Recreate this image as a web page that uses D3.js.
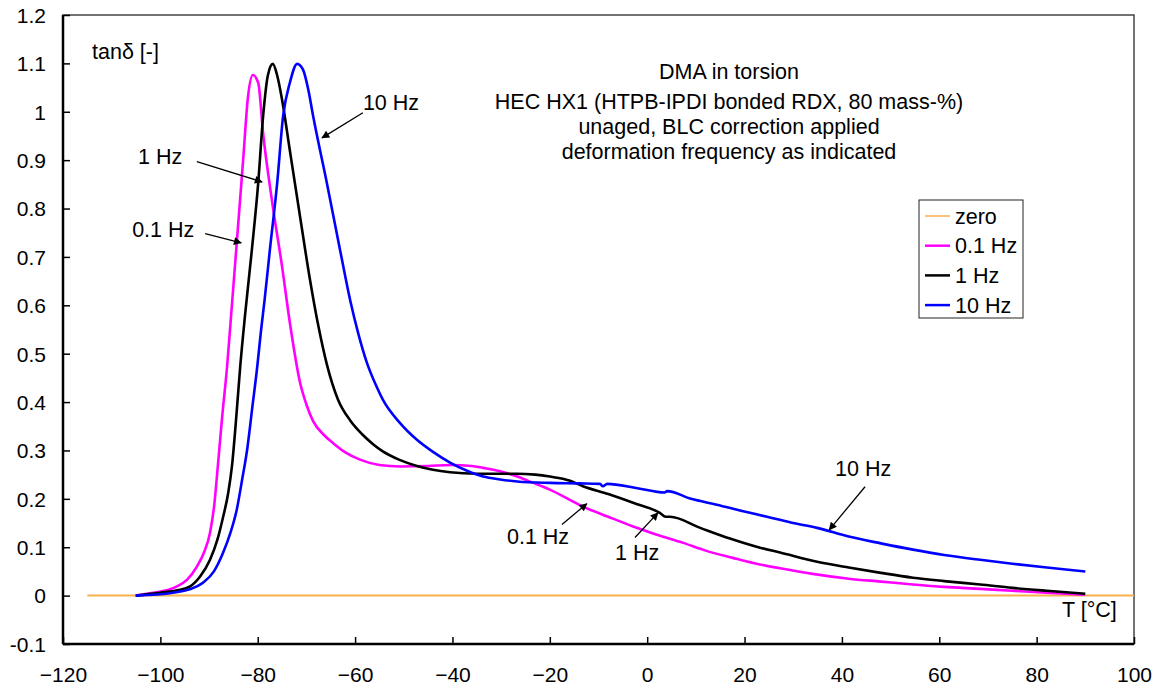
<!DOCTYPE html>
<html>
<head>
<meta charset="utf-8">
<script src="https://cdn.jsdelivr.net/npm/d3@7"></script>
<style>
  body { margin: 0; background: #fff; }
  svg text { font-family: "Liberation Sans", Arial, sans-serif; fill: #000; }
</style>
</head>
<body>
<div id="chart"></div>
<script>
// tan delta vs temperature
var temp01 = [-105.2, -101.5, -98, -96.6, -94.5, -92.5, -91, -89.8, -88.9, -88.2, -87.3, -86.3, -85.5, -84.3, -83.0, -82.0, -81.0,
  -79.9, -78.9, -77.1, -75.0, -73.4, -71.3, -70, -68.6, -66.5, -64.5, -62, -59.0, -55, -50.8, -45, -40.5, -36, -33.7, -30.2, -26.7,
  -23.4, -20, -13.2, -8, -2.9, 2, 7.4, 12, 17.6, 22, 27.6, 34, 41.4, 48, 54.6, 61, 68.4, 75, 82.1, 89.9];
var tan01 = [0, 0.006, 0.013, 0.019, 0.033, 0.06, 0.09, 0.13, 0.19, 0.267, 0.37, 0.473, 0.575, 0.73, 0.90, 1.031, 1.076,
  1.06, 0.956, 0.818, 0.68, 0.564, 0.44, 0.395, 0.36, 0.333, 0.315, 0.296, 0.281, 0.27, 0.267, 0.268, 0.27, 0.268, 0.264, 0.257, 0.246,
  0.233, 0.219, 0.184, 0.163, 0.143, 0.126, 0.109, 0.093, 0.078, 0.067, 0.056, 0.045, 0.035, 0.029, 0.023, 0.018, 0.014, 0.010, 0.006, 0.002];

var temp1 = [-105, -100.1, -96.5, -93.9, -91.8, -89.8, -88.3, -87.1, -86.1, -85.3, -84.4, -83.6, -82.6, -81.2, -79.9, -78.9, -77.9,
  -76.9, -76.0, -75.0, -73.4, -71.3, -69.3, -67.5, -65.8, -63.5, -61.0, -58.5, -56.3, -54.3, -51, -47.3, -44, -40.5, -35, -30.2,
  -26.7, -23, -20, -16, -13.2, -8, -2.9, 2.6, 3.8, 4.7, 10.9, 17, 23.2, 27.3, 34.9, 41.4, 48, 54.6, 61, 68.4, 75, 82.1, 90];
var tan1 = [0, 0.006, 0.011, 0.019, 0.04, 0.074, 0.115, 0.163, 0.21, 0.267, 0.37, 0.473, 0.58, 0.715, 0.853, 0.99, 1.076,
  1.099, 1.075, 1.025, 0.92, 0.783, 0.655, 0.555, 0.478, 0.405, 0.362, 0.333, 0.313, 0.298, 0.281, 0.268, 0.26, 0.255, 0.252, 0.252,
  0.252, 0.25, 0.246, 0.238, 0.226, 0.21, 0.192, 0.171, 0.163, 0.163, 0.14, 0.118, 0.099, 0.089, 0.07, 0.058, 0.047, 0.037, 0.03, 0.023, 0.016, 0.01, 0.004];

var temp10 = [-105, -97.4, -94, -91.2, -89, -87.1, -85.6, -84.3, -83.2, -82.2, -81.1, -80.1, -79.3, -78.6, -77.5, -76.0, -74.8,
  -73.4, -71.9, -70.7, -69.6, -68.6, -65.8, -63.1, -61.0, -59.3, -57.6, -55.5, -54.3, -50.8, -47.3, -44, -40.5, -37, -33.7, -30.2, -26.7,
  -20, -14, -9.7, -9.1, -8.2, -2, 3.6, 4.1, 9, 14.3, 19.5, 24.6, 29.5, 34.9, 41.4, 48, 54.6, 61, 68.4, 75, 82.1, 86, 90];
var tan10 = [0, 0.006, 0.013, 0.027, 0.05, 0.089, 0.13, 0.178, 0.24, 0.30, 0.39, 0.473, 0.55, 0.61, 0.715, 0.853, 0.99,
  1.06, 1.099, 1.087, 1.045, 0.99, 0.853, 0.715, 0.61, 0.54, 0.482, 0.43, 0.405, 0.357, 0.322, 0.297, 0.275, 0.258, 0.246, 0.24, 0.236,
  0.233, 0.232, 0.231, 0.226, 0.231, 0.222, 0.213, 0.216, 0.2, 0.188, 0.175, 0.163, 0.151, 0.14, 0.122, 0.108, 0.095, 0.084, 0.074, 0.066, 0.058, 0.054, 0.05];

var zeroTemp = [-115, 100];
var xTicks = [-120, -100, -80, -60, -40, -20, 0, 20, 40, 60, 80, 100];
var yTicks = [-0.1, 0, 0.1, 0.2, 0.3, 0.4, 0.5, 0.6, 0.7, 0.8, 0.9, 1, 1.1, 1.2];

var seriesNames = ['zero', '0.1 Hz', '1 Hz', '10 Hz'];
var seriesColors = ['#f7b04a', '#ff00ff', '#000000', '#0000ff'];

var titleLines = ['DMA in torsion', 'HEC HX1 (HTPB-IPDI bonded RDX, 80 mass-%)',
  'unaged, BLC correction applied', 'deformation frequency as indicated'];

// annotation labels and arrows, in data units (label x is start, y is text middle)
var noteText = ['10 Hz', '1 Hz', '0.1 Hz', '0.1 Hz', '1 Hz', '10 Hz'];
var noteAt = [[-58.4, 1.019], [-104.6, 0.907], [-105.8, 0.756], [-28.8, 0.122], [-6.6, 0.089], [38.6, 0.262]];
var arrowFrom = [[-58.4, 0.998], [-92.5, 0.897], [-90.8, 0.748], [-17.5, 0.147], [-2.5, 0.12], [44.75, 0.225]];
var arrowTo = [[-66.8, 0.946], [-79.1, 0.855], [-83.4, 0.729], [-12.4, 0.19], [2.2, 0.171], [37.4, 0.136]];

var margin = {top: 15, right: 26, bottom: 45, left: 63};
var width = 1160 - margin.left - margin.right;
var height = 689 - margin.top - margin.bottom;
var fontSize = '21.5px';

var x = d3.scaleLinear().domain([-120, 100]).range([0, width]);
var y = d3.scaleLinear().domain([-0.1, 1.2]).range([height, 0]);

function pairs(ts, vs) {
  return ts.map(function (t, i) { return {t: t, v: vs[i]}; });
}

var series = [
  {name: seriesNames[0], color: seriesColors[0], values: pairs(zeroTemp, [0, 0]), w: 2},
  {name: seriesNames[1], color: seriesColors[1], values: pairs(temp01, tan01), w: 2.6},
  {name: seriesNames[2], color: seriesColors[2], values: pairs(temp1, tan1), w: 2.6},
  {name: seriesNames[3], color: seriesColors[3], values: pairs(temp10, tan10), w: 2.6}
];

var line = d3.line()
    .curve(d3.curveMonotoneX)
    .x(function (d) { return x(d.t); })
    .y(function (d) { return y(d.v); });

var svg = d3.select('#chart').append('svg')
    .attr('width', 1160)
    .attr('height', 689);

svg.append('defs').append('marker')
    .attr('id', 'arrow')
    .attr('viewBox', '0 0 10 10')
    .attr('refX', 9)
    .attr('refY', 5)
    .attr('markerWidth', 10)
    .attr('markerHeight', 8)
    .attr('markerUnits', 'userSpaceOnUse')
    .attr('orient', 'auto')
  .append('path')
    .attr('d', 'M0,0L10,5L0,10z')
    .attr('fill', '#000');

var g = svg.append('g')
    .attr('transform', 'translate(' + margin.left + ',' + margin.top + ')');

// plot frame
g.append('rect')
    .attr('width', width)
    .attr('height', height)
    .attr('fill', 'none')
    .attr('stroke', '#444')
    .attr('stroke-width', 1.5);

// lines
g.selectAll('.series')
    .data(series)
    .enter().append('path')
    .attr('class', 'series')
    .attr('fill', 'none')
    .attr('stroke', function (d) { return d.color; })
    .attr('stroke-width', function (d) { return d.w; })
    .attr('stroke-linejoin', 'round')
    .attr('d', function (d) { return line(d.values); });

// axes, ticks drawn inward
var xAxis = d3.axisTop(x).tickValues(xTicks).tickSize(7).tickFormat(d3.format('d'));
var yAxis = d3.axisRight(y).tickValues(yTicks).tickSize(7).tickFormat(function (v) { return String(+v.toFixed(1)); });

var xg = g.append('g')
    .attr('transform', 'translate(0,' + height + ')')
    .call(xAxis);
xg.select('.domain').remove();
xg.selectAll('line').attr('stroke', '#000').attr('stroke-width', 1.5);
xg.selectAll('text')
    .attr('y', 38)
    .attr('dy', 0)
    .style('font-size', '21px')
    .style('font-family', '"Liberation Sans", Arial, sans-serif');

var yg = g.append('g').call(yAxis);
yg.select('.domain').remove();
yg.selectAll('line').attr('stroke', '#000').attr('stroke-width', 1.5);
yg.selectAll('text')
    .attr('x', -17)
    .attr('dy', '0.35em')
    .attr('text-anchor', 'end')
    .style('font-size', '21px')
    .style('font-family', '"Liberation Sans", Arial, sans-serif');

g.append('line')
    .attr('x1', 0).attr('x2', 0).attr('y1', 0).attr('y2', height)
    .attr('stroke', '#000').attr('stroke-width', 2.5);
g.append('line')
    .attr('x1', 0).attr('x2', width).attr('y1', height).attr('y2', height)
    .attr('stroke', '#000').attr('stroke-width', 2.5);

// axis titles
g.append('text')
    .attr('x', 29).attr('y', 44)
    .style('font-size', fontSize)
    .text('tanδ [-]');
g.append('text')
    .attr('x', 999).attr('y', 602)
    .style('font-size', fontSize)
    .text('T [°C]');

// description block
g.selectAll('.title')
    .data(titleLines)
    .enter().append('text')
    .attr('class', 'title')
    .attr('x', 666)
    .attr('y', function (d, i) { return [64, 94, 119, 144][i]; })
    .attr('text-anchor', 'middle')
    .style('font-size', fontSize)
    .text(function (d) { return d; });

// annotations
var notes = g.selectAll('.note')
    .data(noteText)
    .enter().append('g')
    .attr('class', 'note');
notes.append('text')
    .attr('x', function (d, i) { return x(noteAt[i][0]); })
    .attr('y', function (d, i) { return y(noteAt[i][1]); })
    .attr('dy', '0.35em')
    .style('font-size', fontSize)
    .text(function (d) { return d; });
notes.append('line')
    .attr('x1', function (d, i) { return x(arrowFrom[i][0]); })
    .attr('y1', function (d, i) { return y(arrowFrom[i][1]); })
    .attr('x2', function (d, i) { return x(arrowTo[i][0]); })
    .attr('y2', function (d, i) { return y(arrowTo[i][1]); })
    .attr('stroke', '#000')
    .attr('stroke-width', 1.3)
    .attr('marker-end', 'url(#arrow)');

// legend
var legend = g.append('g')
    .attr('transform', 'translate(856,185)');
legend.append('rect')
    .attr('width', 104)
    .attr('height', 118)
    .attr('fill', '#fff')
    .attr('stroke', '#222')
    .attr('stroke-width', 1);
var item = legend.selectAll('.item')
    .data(series)
    .enter().append('g')
    .attr('class', 'item')
    .attr('transform', function (d, i) { return 'translate(0,' + (16 + i * 29.7) + ')'; });
item.append('line')
    .attr('x1', 6).attr('x2', 31)
    .attr('stroke', function (d) { return d.color; })
    .attr('stroke-width', function (d, i) { return i === 0 ? 1.5 : 2.5; });
item.append('text')
    .attr('x', 36)
    .attr('dy', '0.35em')
    .style('font-size', fontSize)
    .text(function (d) { return d.name; });
</script>
</body>
</html>
